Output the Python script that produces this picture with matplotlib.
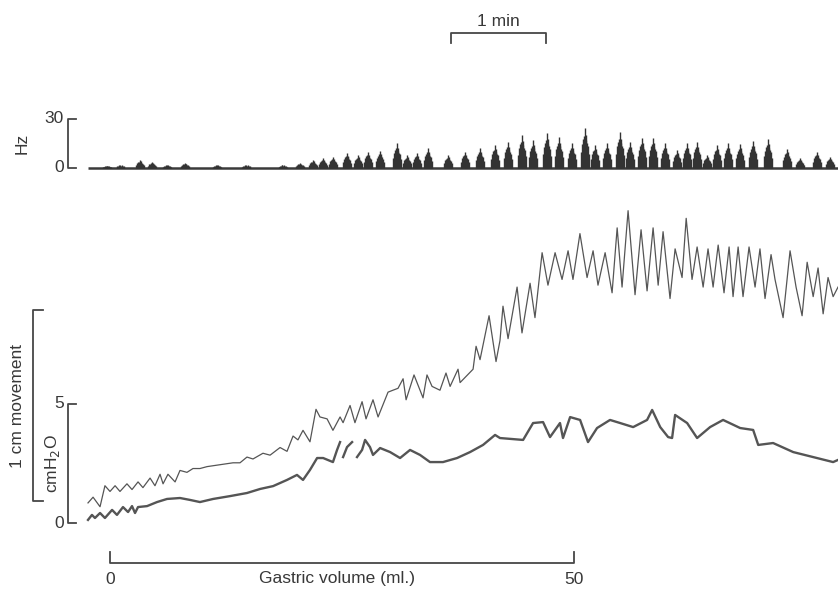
import numpy as np
import matplotlib
matplotlib.use('Agg')
import matplotlib.pyplot as plt
from matplotlib.transforms import blended_transform_factory as blend

plt.rcParams['font.family'] = ['Liberation Sans', 'DejaVu Sans']

# stomach wall movement, time (s) and displacement (cm)
move_t = [0, 3.2, 7.6, 10.7, 13.9, 17.1, 20.2, 24.6, 27.8, 31.6, 34.7, 39.2, 42.3, 45.5, 47.4,
          50.5, 55.0, 58.1, 62.5, 66.3, 70.7, 75.2, 83.4, 91.6, 96.0, 100.4, 104.2, 110.5, 115.0,
          121.3, 125.7, 129.5, 132.6, 135.8, 140.2, 144.0, 146.5, 151.0, 154.7, 159.2, 161.1,
          165.5, 168.6, 173.1, 175.6, 180.0, 183.2, 189.5, 192.6, 195.8, 199.0, 200.9, 205.9,
          211.6, 214.1, 217.3, 222.3, 226.1, 228.7, 233.7, 235.0, 243.2, 245.1, 247.6, 253.3,
          257.7, 260.2, 262.1, 265.3, 271.0, 274.1, 279.2, 282.3, 286.8, 290.5, 295.0, 299.4,
          303.2, 306.3, 310.7, 315.2, 319.0, 322.1, 326.6, 331.0, 334.2, 337.3, 341.1, 345.5,
          349.3, 353.1, 356.9, 360.1, 363.2, 367.6, 370.8, 375.2, 377.8, 381.5, 384.7, 388.5,
          391.6, 394.8, 398.0, 401.7, 404.9, 407.4, 410.6, 413.7, 417.5, 421.3, 424.4, 427.6,
          431.4, 433.9, 439.0, 443.4, 447.2, 451.0, 454.2, 458.0, 461.1, 464.3, 467.4, 470.6, 473.7]
move_cm = [-0.01, 0.02, -0.03, 0.08, 0.05, 0.08, 0.05, 0.09, 0.06, 0.10, 0.07, 0.12, 0.08, 0.14, 0.09,
           0.14, 0.10, 0.16, 0.15, 0.17, 0.17, 0.18, 0.19, 0.20, 0.20, 0.23, 0.22, 0.25, 0.24,
           0.28, 0.26, 0.34, 0.32, 0.37, 0.31, 0.48, 0.44, 0.43, 0.37, 0.44, 0.41,
           0.50, 0.41, 0.52, 0.43, 0.53, 0.44, 0.57, 0.58, 0.59, 0.64, 0.53, 0.66,
           0.54, 0.66, 0.60, 0.58, 0.67, 0.60, 0.69, 0.62, 0.69, 0.81, 0.74, 0.97,
           0.73, 0.84, 1.02, 0.85, 1.12, 0.88, 1.14, 0.96, 1.30, 1.13, 1.30, 1.16,
           1.31, 1.16, 1.40, 1.17, 1.31, 1.13, 1.30, 1.09, 1.43, 1.12, 1.52, 1.08,
           1.42, 1.10, 1.43, 1.13, 1.41, 1.06, 1.32, 1.17, 1.48, 1.16, 1.33, 1.12,
           1.32, 1.12, 1.34, 1.09, 1.33, 1.07, 1.33, 1.07, 1.33, 1.12, 1.32, 1.06,
           1.29, 1.16, 0.96, 1.31, 1.12, 0.97, 1.25, 1.07, 1.22, 0.98, 1.17, 1.07, 1.12]

# intragastric pressure, time (s) and cmH2O (nan = gap in the pen trace)
pres_t = [0, 2.5, 4.4, 7.6, 10.7, 15.2, 18.3, 22.1, 25.3, 27.8, 29.7, 31.6, 37.3, 43.6, 49.9,
          58.1, 64.4, 70.7, 79.0, 89.7, 100.4, 108.7, 116.9, 125.7, 132.0, 135.8, 140.2, 144.7,
          148.5, 154.7, 157.3, 159.2, 160.2, 161.1, 163.6, 166.8, 168.3, 169.9, 173.1, 175.0,
          178.1, 180.0, 184.5, 190.8, 197.1, 203.4, 209.7, 216.0, 224.2, 233.1, 241.3, 249.5,
          257.1, 260.2, 274.8, 281.1, 287.4, 291.8, 298.1, 300.0, 304.5, 310.8, 315.8, 321.5,
          329.7, 336.1, 344.3, 353.1, 356.3, 361.4, 366.4, 368.9, 370.8, 378.4, 384.7, 392.9,
          401.1, 411.9, 420.1, 423.3, 432.7, 445.4, 458.0, 470.6, 473.7]
pres_cmh2o = [0.13, 0.34, 0.21, 0.42, 0.21, 0.55, 0.34, 0.67, 0.46, 0.71, 0.42, 0.67, 0.71, 0.88, 1.01,
              1.05, 0.97, 0.88, 1.01, 1.13, 1.26, 1.43, 1.55, 1.81, 2.02, 1.81, 2.23, 2.73,
              2.73, 2.56, 3.07, 3.40, np.nan, 2.77, 3.19, 3.40, np.nan, 2.77, 3.07, 3.49,
              3.19, 2.86, 3.15, 2.98, 2.73, 3.07, 2.86, 2.56, 2.56, 2.73, 2.98, 3.28,
              3.70, 3.57, 3.49, 4.20, 4.24, 3.61, 4.20, 3.57, 4.45, 4.33, 3.40, 3.99,
              4.33, 4.20, 4.03, 4.33, 4.75, 4.03, 3.61, 3.57, 4.54, 4.20, 3.57, 4.03,
              4.33, 3.99, 3.91, 3.28, 3.36, 2.98, 2.77, 2.56, 2.65]

# nerve discharge bursts, burst time (s) and peak rate (Hz)
burst_t = [12.0, 20.5, 32.8, 40.4, 50.0, 61.3, 81.5, 100.0, 123.0, 134.0,
           142.1, 148.5, 154.7, 163.6, 170.6, 176.9, 184.5, 195.2, 201.5, 207.8,
           214.8, 227.4, 238.2, 247.6, 257.1, 265.3, 274.2, 281.1, 290.0, 297.5,
           305.7, 314.0, 320.3, 327.9, 336.1, 342.4, 350.0, 356.9, 364.5, 372.1,
           378.4, 384.7, 391.0, 397.3, 404.3, 411.9, 420.1, 429.6, 441.6, 449.8,
           460.5, 468.7]
burst_hz = [1.5, 2.0, 4.9, 3.7, 2.0, 3.1, 2.0, 2.0, 2.0, 3.0,
            4.9, 6.1, 6.7, 9.2, 8.0, 9.8, 10.4, 15.3, 8.0, 9.2,
            12.2, 8.0, 9.8, 12.2, 14.1, 15.9, 20.2, 17.1, 21.4, 19.0,
            15.3, 24.5, 14.1, 15.3, 22.0, 15.9, 18.4, 18.4, 15.3, 11.0,
            15.3, 15.9, 8.0, 14.1, 15.3, 14.7, 16.5, 17.7, 11.6, 6.1,
            9.8, 6.7]

# scale bars
min_bar_start_s = 229.3
min_bar_len_s = 60.0
vol_ticks = [0, 50]

W, H = 838, 589
T0_PX = 88.0
PX_PER_S = 95.0 / 60.0
INK = '#474747'
TRACE = '#555555'
TXT = '#383838'
FS = 12.5

fig = plt.figure(figsize=(W / 100, H / 100), dpi=100)


def layer(xlim, zero_px, px_per_unit):
    ax = fig.add_axes([0, 0, 1, 1])
    ax.set_xlim(*xlim)
    ax.set_ylim((zero_px - H) / px_per_unit, zero_px / px_per_unit)
    ax.axis('off')
    ax.patch.set_alpha(0)
    return ax


tlim = (-T0_PX / PX_PER_S, (W - T0_PX) / PX_PER_S)
ax_hz = layer(tlim, 168, 49.0 / 30)
ax_p = layer(tlim, 523, 23.8)
ax_m = layer(tlim, 501, 191.0)
ax_v = fig.add_axes([0, 0, 1, 1])
ax_v.set_xlim(-110 / 9.28, (W - 110) / 9.28)
ax_v.set_ylim(0, 1)
ax_v.axis('off')
ax_v.patch.set_alpha(0)

# --- Hz trace
ax_hz.plot([0, tlim[1]], [0.3, 0.3], color='#3a3a3a', lw=1.8, solid_capstyle='butt')
offs = np.array([-2.5, -1.9, -1.3, -0.7, -0.2, 0.3, 0.8, 1.4, 2.0, 2.5])
prof = np.array([0.4, 0.6, 0.72, 0.8, 1.0, 0.7, 0.82, 0.62, 0.55, 0.35])
for t, h in zip(burst_t, burst_hz):
    ax_hz.vlines(t + offs, 0, h * prof, color='#333333', lw=1.0)
    ax_hz.fill_between(t + offs, 0, h * prof * 0.7, color='#3a3a3a', lw=0)

# --- movement and pressure traces
ax_m.plot(move_t, move_cm, color=TRACE, lw=0.9)
ax_p.plot(pres_t, pres_cmh2o, color=TRACE, lw=1.7)

# --- y scale brackets
tr = blend(ax_hz.transAxes, ax_hz.transData)
ax_hz.plot([76 / W, 68 / W, 68 / W, 76 / W], [30, 30, 0, 0], color=INK, lw=1.3, transform=tr)
ax_hz.text(64 / W, 30, '30', ha='right', va='center', fontsize=FS, color=TXT, transform=tr)
ax_hz.text(64 / W, 0, '0', ha='right', va='center', fontsize=FS, color=TXT, transform=tr)
ax_hz.text(22 / W, 15, 'Hz', ha='center', va='center', rotation=90, fontsize=FS, color=TXT, transform=tr)

tr = blend(ax_p.transAxes, ax_p.transData)
ax_p.plot([76 / W, 68 / W, 68 / W, 76 / W], [5, 5, 0, 0], color=INK, lw=1.3, transform=tr)
ax_p.text(64 / W, 5, '5', ha='right', va='center', fontsize=FS, color=TXT, transform=tr)
ax_p.text(64 / W, 0, '0', ha='right', va='center', fontsize=FS, color=TXT, transform=tr)
ax_p.text(52 / W, 2.5, 'cmH$_2$O', ha='center', va='center', rotation=90, fontsize=FS, color=TXT,
          transform=tr)

tr = blend(ax_m.transAxes, ax_m.transData)
ax_m.plot([43 / W, 33 / W, 33 / W, 43 / W], [1, 1, 0, 0], color=INK, lw=1.3, transform=tr)
ax_m.text(17 / W, 0.5, '1 cm movement', ha='center', va='center', rotation=90, fontsize=FS,
          color=TXT, transform=tr)

# --- time bar
tr = blend(ax_m.transData, ax_m.transAxes)
x0, x1 = min_bar_start_s, min_bar_start_s + min_bar_len_s
ax_m.plot([x0, x0, x1, x1], [1 - 43 / H, 1 - 33 / H, 1 - 33 / H, 1 - 43 / H], color=INK, lw=1.3,
          transform=tr)
ax_m.text((x0 + x1) / 2, 1 - 22 / H, '1 min', ha='center', va='center', fontsize=FS, color=TXT,
          transform=tr)

# --- gastric volume bar
v0, v1 = vol_ticks
yb, yt = 1 - 563 / H, 1 - 552 / H
ax_v.plot([v0, v0, v1, v1], [yt, yb, yb, yt], color=INK, lw=1.3)
ax_v.text(v0, 1 - 579 / H, '0', ha='center', va='center', fontsize=FS, color=TXT)
ax_v.text(v1, 1 - 579 / H, '50', ha='center', va='center', fontsize=FS, color=TXT)
ax_v.text(24.5, 1 - 579 / H, 'Gastric volume (ml.)', ha='center', va='center', fontsize=FS, color=TXT)

fig.savefig('out.png', dpi=100, facecolor='white')
